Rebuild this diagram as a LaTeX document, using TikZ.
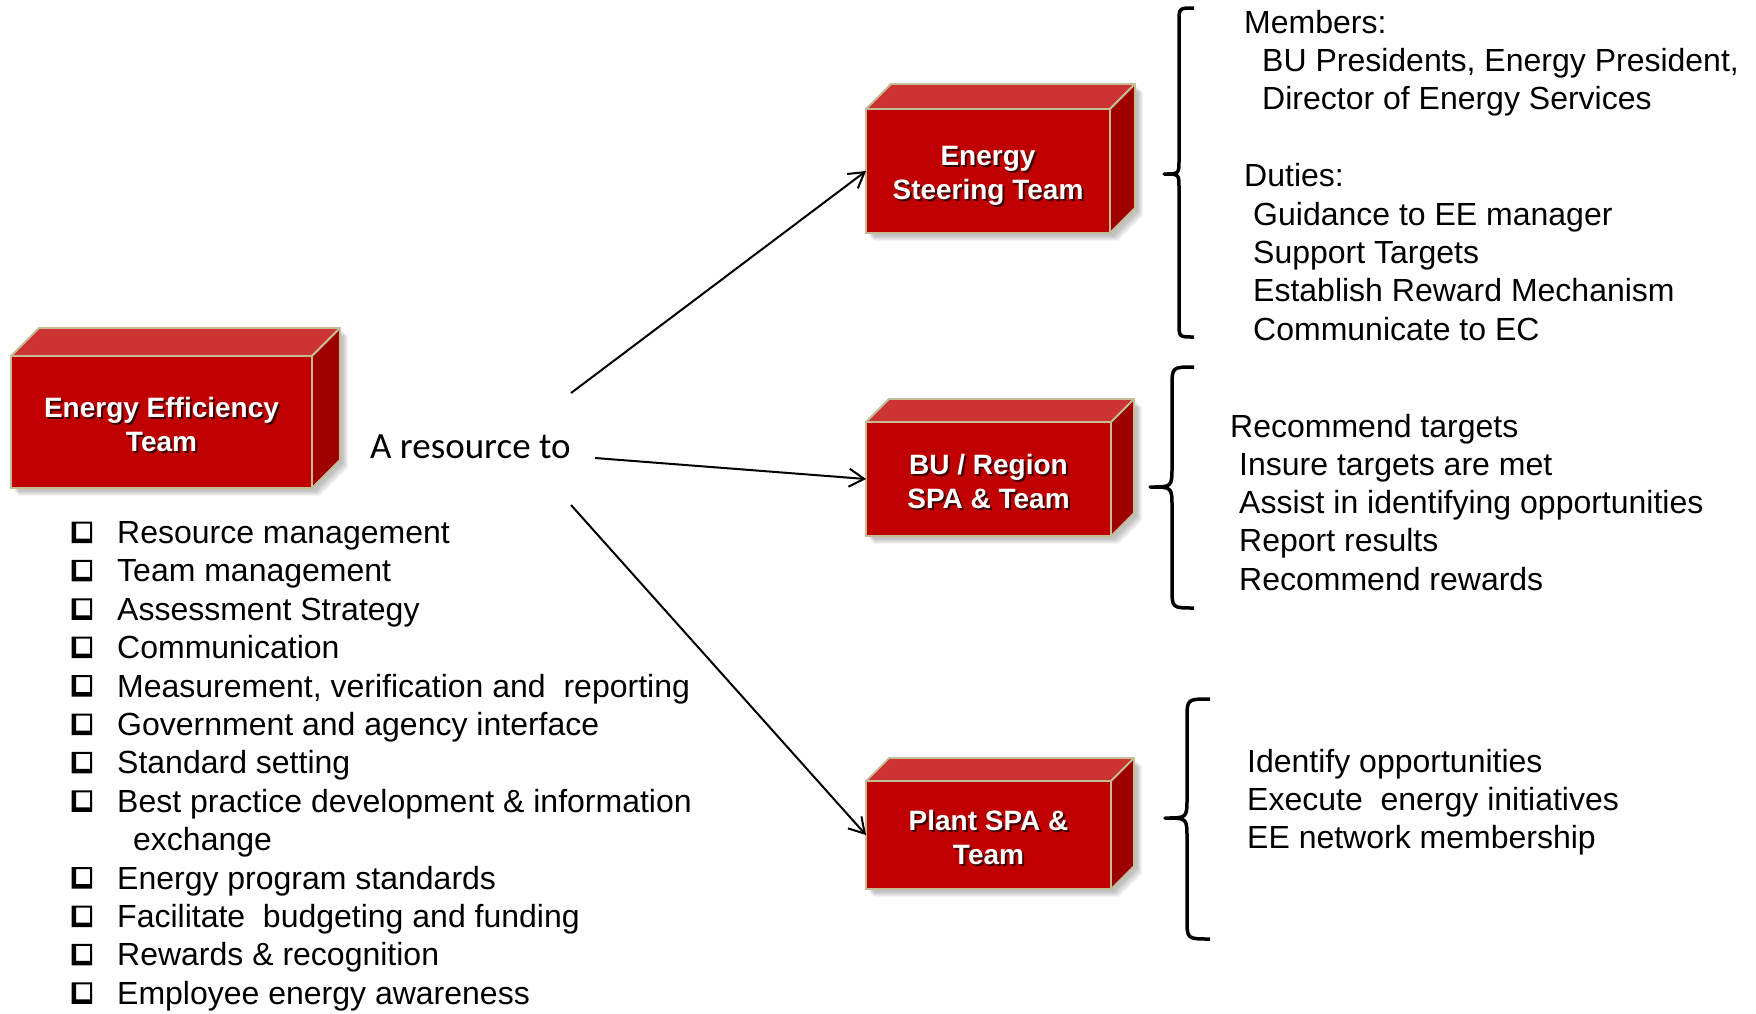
\documentclass[tikz,border=0pt]{standalone}
\usepackage{fontspec}
\setmainfont{Liberation Sans}
\newfontfamily\calfont{Carlito}
\usetikzlibrary{arrows.meta}
\definecolor{boxfront}{RGB}{192,0,0}
\definecolor{boxtop}{RGB}{204,51,51}
\definecolor{boxside}{RGB}{158,0,0}
\definecolor{boxedge}{RGB}{196,188,150}
\definecolor{txtshadow}{RGB}{60,0,0}
\newcommand{\shd}[1]{\makebox[0pt][l]{\hspace{2pt}\raisebox{-2pt}{\textcolor{txtshadow}{#1}}}#1}
\tikzset{
  face/.style={draw=boxedge, line width=1.8pt, fill=boxfront, inner sep=0pt, outer sep=0pt},
  facetxt/.style={inner sep=0pt, font=\fontsize{28}{34}\selectfont\bfseries, text=white, align=center},
  facetop/.style={draw=boxedge, line width=1.8pt, fill=boxtop, line join=round},
  faceside/.style={draw=boxedge, line width=1.8pt, fill=boxside, line join=round},
  ltxt/.style={anchor=base west, inner sep=0pt, font=\fontsize{32}{38.4}\selectfont},
  rtxt/.style={anchor=base west, inner sep=0pt, font=\fontsize{32}{38.4}\selectfont},
  conn/.style={-{Straight Barb[length=15pt,width=18pt]}, line width=2pt},
  bracestyle/.style={line width=3.5pt, line join=round}
}
% #1 name, #2 cx, #3 cy, #4 w, #5 h, #6 depth, #7 text, #8 text offset
\newcommand{\cuboid}[8]{%
  \foreach \k in {1,...,6}{%
    \fill[black,opacity=0.045,shift={({2+\k},{2+\k})}]
      ({#2-#4/2},{#3+#5/2}) -- ({#2-#4/2},{#3-#5/2}) -- ({#2-#4/2+#6},{#3-#5/2-#6})
      -- ({#2+#4/2+#6},{#3-#5/2-#6}) -- ({#2+#4/2+#6},{#3+#5/2-#6}) -- ({#2+#4/2},{#3+#5/2}) -- cycle;
  }
  \node[face, minimum width=#4, minimum height=#5] (#1) at (#2,#3) {};
  \draw[facetop] (#1.north west) -- ++(#6,-#6) -- ([shift={(#6,-#6)}]#1.north east) -- (#1.north east) -- cycle;
  \draw[faceside] (#1.north east) -- ++(#6,-#6) -- ([shift={(#6,-#6)}]#1.south east) -- (#1.south east) -- cycle;
  \node[facetxt] (#1t) at ([shift={(0,#8)}]#1.center) {#7};
}
% #1 xe, #2 xv, #3 xt, #4 yt, #5 ym, #6 yb, #7 r, #8 r2
\newcommand{\curlybr}[8]{%
  \draw[bracestyle] (#1,#4) .. controls (#2,#4) .. (#2,{#4+#7}) -- (#2,{#5-#8})
    .. controls (#2,#5) .. (#3,#5) .. controls (#2,#5) .. (#2,{#5+#8})
    -- (#2,{#6-#7}) .. controls (#2,#6) .. (#1,#6);
}
% #1 name, #2 baseline, #3 text
\newcommand{\litem}[3]{%
  \fill[even odd rule] (71.5,{#2-22}) rectangle (92,{#2-0.5}) (76,{#2-20}) rectangle (90,{#2-5});
  \node[ltxt] (#1) at (117,#2) {#3};
}
\begin{document}
\begin{tikzpicture}[x=1pt,y=-1pt]
\fill[white] (0,0) rectangle (1756,1013);
\useasboundingbox (0,0) rectangle (1756,1013);

% boxes
\cuboid{EE}{161.5}{422}{301}{132}{28}{\shd{Energy Efficiency}\\\shd{Team}}{3}
\cuboid{ES}{988}{171}{244}{124}{25}{\shd{Energy}\\\shd{Steering Team}}{5.5}
\cuboid{BU}{988.5}{479}{245}{114}{23}{\shd{BU / Region}\\\shd{SPA \& Team}}{3.5}
\cuboid{PL}{988.5}{835}{245}{108}{23}{\shd{Plant SPA \&}\\\shd{Team}}{3.5}

% label
\node[anchor=base west, inner sep=0pt, font=\calfont\fontsize{37}{44}\selectfont] (res) at (370,458) {A resource to};

% connectors
\coordinate (s1) at (571,393);
\coordinate (s2) at (595,458);
\coordinate (s3) at (571,505);
\draw[conn] (s1) -- (ES.west);
\draw[conn] (s2) -- (BU.west);
\draw[conn] (s3) -- (PL.west);

% list
\litem{L0}{543.5}{Resource management}
\litem{L1}{581.9}{Team management}
\litem{L2}{620.3}{Assessment Strategy}
\litem{L3}{658.7}{Communication}
\litem{L4}{697.1}{Measurement, verification and~ reporting}
\litem{L5}{735.5}{Government and agency interface}
\litem{L6}{773.9}{Standard setting}
\litem{L7}{812.3}{Best practice development \& information}
\node[ltxt] (L8) at (133,850.7) {exchange};
\litem{L9}{889.1}{Energy program standards}
\litem{L10}{927.5}{Facilitate~ budgeting and funding}
\litem{L11}{965.9}{Rewards \& recognition}
\litem{L12}{1004.3}{Employee energy awareness}

% braces
\curlybr{1194}{1179}{1164}{8}{174}{337}{14}{14}
\curlybr{1194}{1172}{1150}{367}{487}{608}{20}{20}
\curlybr{1210}{1187}{1165}{699}{818}{939}{20}{20}

% right texts: steering team
\node[rtxt] (T0) at (1244,33) {Members:};
\node[rtxt] (T1) at (1262,71.4) {BU Presidents, Energy President,};
\node[rtxt] (T2) at (1262,109.8) {Director of Energy Services};
\node[rtxt] (T3) at (1244,186.6) {Duties:};
\node[rtxt] (T4) at (1253,225) {Guidance to EE manager};
\node[rtxt] (T5) at (1253,263.4) {Support Targets};
\node[rtxt] (T6) at (1253,301.8) {Establish Reward Mechanism};
\node[rtxt] (T7) at (1253,340.2) {Communicate to EC};

% right texts: BU
\node[rtxt] (M0) at (1230,437) {Recommend targets};
\node[rtxt] (M1) at (1239,475.3) {Insure targets are met};
\node[rtxt] (M2) at (1239,513.6) {Assist in identifying opportunities};
\node[rtxt] (M3) at (1239,551.9) {Report results};
\node[rtxt] (M4) at (1239,590.2) {Recommend rewards};

% right texts: plant
\node[rtxt] (P0) at (1247,772) {Identify opportunities};
\node[rtxt] (P1) at (1247,810.2) {Execute~ energy initiatives};
\node[rtxt] (P2) at (1247,848.4) {EE network membership};
\end{tikzpicture}
\end{document}
